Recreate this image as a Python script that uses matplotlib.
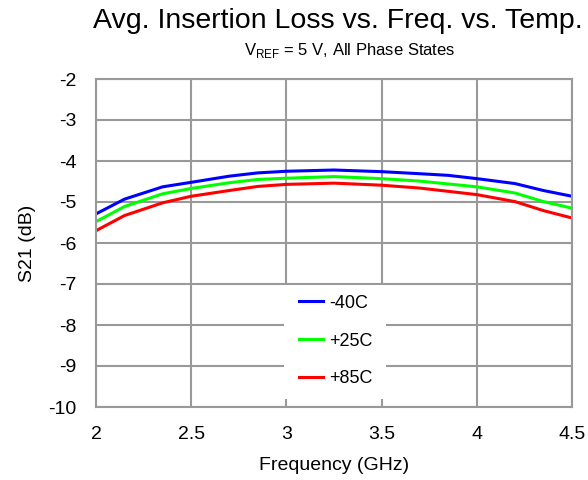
import matplotlib
matplotlib.use("Agg")
import matplotlib.pyplot as plt
from matplotlib.patches import Rectangle

plt.rcParams['font.family'] = ['Liberation Sans', 'DejaVu Sans']
plt.rcParams['axes.unicode_minus'] = False

# data
freq = [2.0, 2.15, 2.35, 2.5, 2.7, 2.85, 3.0, 3.25, 3.5, 3.7, 3.85, 4.0, 4.2, 4.35, 4.5]
s21_m40 = [-5.29, -4.93, -4.63, -4.52, -4.37, -4.29, -4.25, -4.22, -4.26, -4.31, -4.35, -4.43, -4.55, -4.72, -4.86]
s21_p25 = [-5.48, -5.11, -4.80, -4.67, -4.53, -4.45, -4.42, -4.38, -4.43, -4.49, -4.56, -4.63, -4.78, -4.99, -5.15]
s21_p85 = [-5.70, -5.33, -5.02, -4.86, -4.72, -4.62, -4.57, -4.54, -4.59, -4.66, -4.74, -4.82, -4.99, -5.21, -5.39]
labels = ['-40C', '+25C', '+85C']
colors = ['#0000ff', '#00ff00', '#ff0000']
xticks = [2, 2.5, 3, 3.5, 4, 4.5]
xticklabels = ['2', '2.5', '3', '3.5', '4', '4.5']

fig = plt.figure(figsize=(5.88, 4.8), dpi=100)
ax = fig.add_axes([96/588, 1 - 407/480, (572-96)/588, (407-79)/480])

for ys, lab, c in zip([s21_m40, s21_p25, s21_p85], labels, colors):
    ax.plot(freq, ys, color=c, lw=2.2, label=lab)

ax.set_xlim(2, 4.5)
ax.set_ylim(-10, -2)
ax.set_xticks(xticks)
ax.set_xticklabels(xticklabels)
ax.set_yticks(range(-10, -1))
ax.grid(True, color='#999999', lw=1.5)
ax.set_axisbelow(True)
for s in ax.spines.values():
    s.set_color('#999999')
    s.set_linewidth(1.5)
ax.tick_params(length=0, labelsize=14)
ax.tick_params(axis='y', pad=14)
ax.tick_params(axis='x', pad=14)

ax.set_xlabel('Frequency (GHz)', fontsize=14)
ax.set_ylabel('S21 (dB)', fontsize=14)
ax.xaxis.set_label_coords(0.5, -0.152)
ax.yaxis.set_label_coords(-0.126, 0.5)

fig.text(0.575, 1 - 28.5/480, 'Avg. Insertion Loss vs. Freq. vs. Temp.', ha='center', va='baseline', fontsize=20.5)
fig.text(0.595, 1 - 54.5/480, r'V$_{\mathregular{REF}}$ = 5 V, All Phase States', ha='center', va='baseline', fontsize=12)

# white box behind the legend hides the grid there
ax.add_patch(Rectangle((0.395, 0.024), 0.214, 0.348, transform=ax.transAxes,
                       facecolor='white', edgecolor='none', zorder=1.5))
ax.legend(loc='center', bbox_to_anchor=(0.504, 0.201), frameon=False, fontsize=13,
          handlelength=1.3, handletextpad=0.35, labelspacing=1.15)

fig.savefig('out.png', dpi=100)
